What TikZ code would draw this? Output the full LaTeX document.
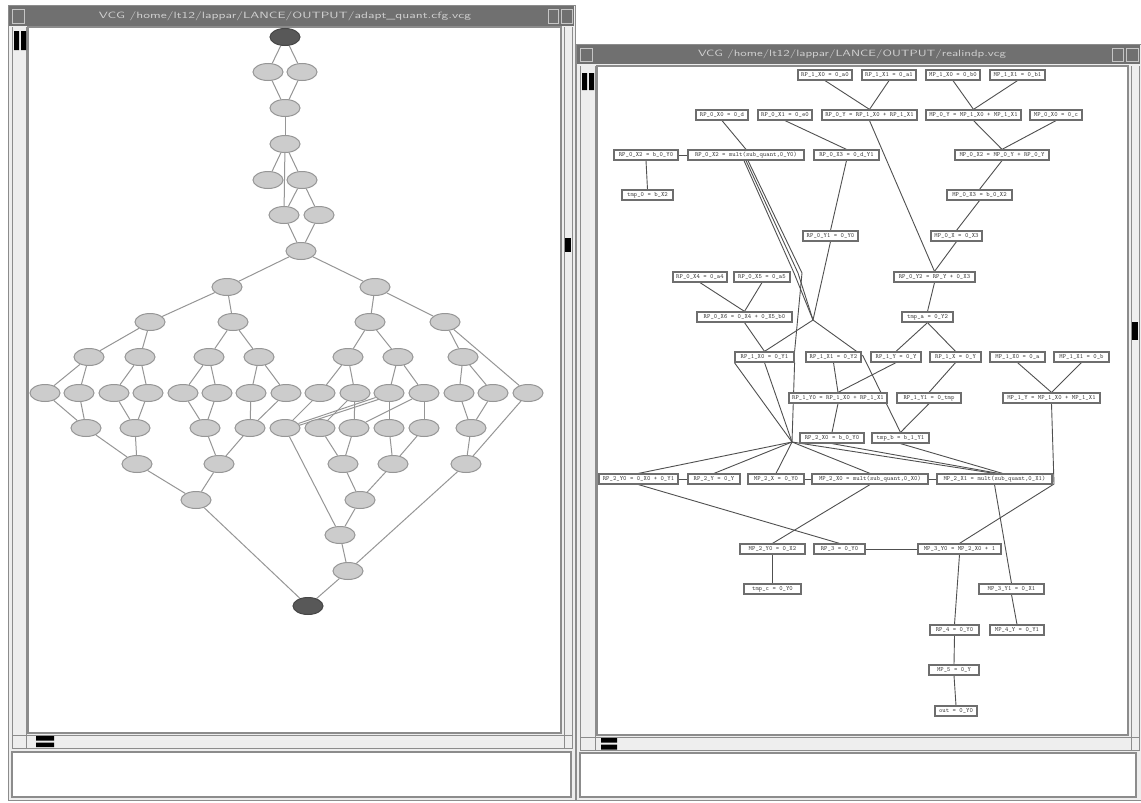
\documentclass[tikz,border=0pt]{standalone}
\usepackage{graphicx}
\usetikzlibrary{shapes.geometric}
\definecolor{tbar}{RGB}{112,112,112}
\definecolor{frm}{RGB}{140,140,140}
\definecolor{strip}{RGB}{238,238,238}
\definecolor{efill}{RGB}{204,204,204}
\definecolor{eline}{RGB}{150,150,150}
\definecolor{dfill}{RGB}{88,88,88}
\definecolor{ledgec}{RGB}{150,150,150}
\definecolor{redgec}{RGB}{80,80,80}
\definecolor{blinec}{RGB}{110,110,110}
\pgfdeclarelayer{bg}\pgfdeclarelayer{edges}\pgfsetlayers{bg,edges,main}
\newcommand\rbx[5]{\node[rb,minimum width={(#3-#2)*0.5pt}] (#1) at ({(#2+#3)/2},#4) {\detokenize{#5}};}
\newcommand\el[3]{\node[ell] (#1) at (#2,#3) {};}
\tikzset{
  ell/.style={ellipse,draw=eline,fill=efill,line width=0.5pt,minimum width=15pt,minimum height=8.5pt,inner sep=0pt},
  dell/.style={ell,fill=dfill,draw=dfill!80!black},
  rb/.style={draw=blinec,fill=white,line width=0.6pt,minimum height=5pt,inner sep=0pt,font=\fontsize{3.2}{3.5}\ttfamily,text=black!75},
  ledge/.style={draw=ledgec,line width=0.5pt},
  redge/.style={draw=redgec,line width=0.45pt},
  ttl/.style={inner sep=0pt,text=gray!35,font=\sffamily},
  thumb/.style={fill=black}
}
\begin{document}
\begin{tikzpicture}[x=0.5pt,y=-0.5pt]
\useasboundingbox (0,0) rectangle (1141,803);
\begin{pgfonlayer}{bg}
\fill[white] (0,0) rectangle (1141,803);
% ---------- left window ----------
\fill[strip] (8,5) rectangle (575,800);
\draw[frm] (8,5) rectangle (575,800);
\fill[tbar] (9,6) rectangle (574,26);
\draw[gray!45] (12,9) rectangle (24,23) (548,9) rectangle (558,23) (561,9) rectangle (572,23);
\fill[white] (28,27) rectangle (561,733);
\draw[frm,line width=0.8pt] (28,27) rectangle (561,733);
\draw[frm] (12,27) -- (12,749) (26,27) -- (26,749) (564,27) -- (564,749) (572,27) -- (572,749);
\draw[frm] (12,735) -- (572,735) (12,748) -- (572,748);
\fill[thumb] (14,31) rectangle (19,50) (21,31) rectangle (26,50);
\fill[thumb] (565,238) rectangle (571,252);
\fill[thumb] (36,736) rectangle (54,740.5) (36,742.5) rectangle (54,747);
\fill[white] (12,752) rectangle (571,797);
\draw[frm,line width=0.8pt] (12,752) rectangle (571,797);
% ---------- right window ----------
\fill[strip] (576,44) rectangle (1141,800);
\draw[frm] (576,44) rectangle (1141,800);
\fill[tbar] (577,45) rectangle (1140,64);
\draw[gray!45] (580,48) rectangle (592,61) (1112,48) rectangle (1123,61) (1126,48) rectangle (1138,61);
\fill[white] (597,66) rectangle (1128,735);
\draw[frm,line width=0.8pt] (597,66) rectangle (1128,735);
\draw[frm] (580,66) -- (580,751) (595,66) -- (595,751) (1131,66) -- (1131,751) (1139,66) -- (1139,751);
\draw[frm] (580,737) -- (1139,737) (580,750) -- (1139,750);
\fill[thumb] (582,73) rectangle (587,90) (589,73) rectangle (594,90);
\fill[thumb] (1132,322) rectangle (1138,340);
\fill[thumb] (601,738) rectangle (617,742.5) (601,744.5) rectangle (617,749.5);
\fill[white] (580,753) rectangle (1136,797);
\draw[frm,line width=0.8pt] (580,753) rectangle (1136,797);
\end{pgfonlayer}
% titles
\node[ttl] (title1) at (285,16) {\resizebox{186pt}{3.4pt}{\detokenize{VCG /home/lt12/lappar/LANCE/OUTPUT/adapt_quant.cfg.vcg}}};
\node[ttl] (title2) at (852,54) {\resizebox{154pt}{3.4pt}{\detokenize{VCG /home/lt12/lappar/LANCE/OUTPUT/realindp.vcg}}};
% ---------- left graph ----------
\node[dell] (L0) at (285,37) {};
\el{A1}{268}{72}\el{A2}{302}{72}
\el{A3}{285}{108}\el{A4}{285}{144}
\el{A5}{268}{180}\el{A6}{302}{180}
\el{A7}{284}{215}\el{A8}{319}{215}
\el{A9}{301}{251}
\el{B1}{227}{287}\el{B2}{375}{287}
\el{C1}{150}{322}\el{C2}{233}{322}\el{C3}{370}{322}\el{C4}{445}{322}
\el{D1}{89}{357}\el{D2}{140}{357}\el{D3}{209}{357}\el{D4}{259}{357}\el{D5}{348}{357}\el{D6}{398}{357}\el{D7}{463}{357}
\foreach \i/\x in {1/45,2/79,3/114,4/148,5/183,6/217,7/251,8/286,9/320,10/355,11/389,12/424,13/459,14/493,15/528}{\el{E\i}{\x}{393}}
\foreach \i/\x in {1/86,2/135,3/205,4/250,5/285,6/320,7/354,8/389,9/424,10/471}{\el{F\i}{\x}{428}}
\foreach \i/\x in {1/137,2/219,3/343,4/393,5/466}{\el{G\i}{\x}{464}}
\el{H1}{196}{500}\el{H2}{360}{500}
\el{I1}{340}{535}\el{J1}{348}{571}
\node[dell] (LE) at (308,606) {};
\begin{pgfonlayer}{edges}
\foreach \a/\b in {L0/A1,L0/A2,A1/A3,A2/A3,A3/A4,A4/A5,A4/A6,A4/A7,A6/A7,A6/A8,A7/A9,A8/A9,
  A9/B1,A9/B2,B1/C1,B1/C2,B2/C3,B2/C4,
  C1/D1,C1/D2,C2/D3,C2/D4,C3/D5,C3/D6,C4/D7,C4/E15,
  D1/E1,D1/E2,D2/E3,D2/E4,D3/E5,D3/E6,D4/E7,D4/E8,D5/E9,D5/E10,D6/E11,D6/E12,D7/E13,D7/E14,
  E1/F1,E2/F1,E3/F2,E4/F2,E5/F3,E6/F3,E7/F4,E8/F4,E9/F5,E11/F5,E10/F6,E10/F7,E12/F7,E11/F8,E12/F9,E13/F10,E14/F10,
  F1/G1,F2/G1,F3/G2,F4/G2,F6/G3,F7/G3,F8/G4,F9/G4,F10/G5,E15/G5,
  G1/H1,G2/H1,G3/H2,G4/H2,F5/I1,H2/I1,I1/J1,G5/J1,H1/LE,J1/LE}
  {\draw[ledge] (\a) -- (\b);}
\draw[ledge] ([yshift=-1.5pt]E11.center) -- ([yshift=-1pt]F5.center);
\end{pgfonlayer}
% ---------- right graph ----------
\rbx{a1}{798}{852}{75}{RP_1_X0 = 0_a0}
\rbx{a2}{862}{916}{75}{RP_1_X1 = 0_a1}
\rbx{a3}{926}{980}{75}{MP_1_X0 = 0_b0}
\rbx{a4}{990}{1045}{75}{MP_1_X1 = 0_b1}
\rbx{b1}{696}{748}{115}{RP_0_X0 = 0_d}
\rbx{b2}{758}{812}{115}{RP_0_X1 = 0_e0}
\rbx{b3}{822}{917}{115}{RP_0_Y = RP_1_X0 + RP_1_X1}
\rbx{b4}{926}{1021}{115}{MP_0_Y = MP_1_X0 + MP_1_X1}
\rbx{b5}{1030}{1082}{115}{MP_0_X0 = 0_c}
\rbx{c1}{614}{678}{155}{RP_0_X2 = b_0_Y0}
\rbx{c2}{688}{804}{155}{RP_0_X2 = mult(sub_quant,0_Y0)}
\rbx{c3}{814}{879}{155}{RP_0_X3 = 0_d_Y1}
\rbx{c4}{955}{1049}{155}{MP_0_X2 = MP_0_Y + RP_0_Y}
\rbx{d1}{622}{673}{195}{tmp_0 = b_X2}
\rbx{d2}{947}{1012}{195}{MP_0_X3 = b_0_X2}
\rbx{e1}{803}{858}{236}{RP_0_Y1 = 0_Y0}
\rbx{e2}{931}{982}{236}{MP_0_X = 0_X3}
\rbx{f1}{673}{727}{277}{RP_0_X4 = 0_a4}
\rbx{f2}{734}{790}{277}{RP_0_X5 = 0_a5}
\rbx{f3}{894}{975}{277}{RP_0_Y2 = RP_Y + 0_X3}
\rbx{g1}{697}{792}{317}{RP_0_X6 = 0_X4 + 0_X5_b0}
\rbx{g2}{902}{953}{317}{tmp_a = 0_Y2}
\rbx{h1}{735}{794}{357}{RP_1_X0 = 0_Y1}
\rbx{h2}{806}{861}{357}{RP_1_X1 = 0_Y2}
\rbx{h3}{871}{921}{357}{RP_1_Y = 0_Y}
\rbx{h4}{930}{981}{357}{RP_1_X = 0_Y}
\rbx{h5}{990}{1045}{357}{MP_1_X0 = 0_a}
\rbx{h6}{1054}{1109}{357}{MP_1_X1 = 0_b}
\rbx{i1}{789}{887}{398}{RP_1_Y0 = RP_1_X0 + RP_1_X1}
\rbx{i2}{897}{961}{398}{RP_1_Y1 = 0_tmp}
\rbx{i3}{1003}{1100}{398}{MP_1_Y = MP_1_X0 + MP_1_X1}
\rbx{j1}{800}{864}{438}{RP_2_X0 = b_0_Y0}
\rbx{j2}{872}{929}{438}{tmp_b = b_1_Y1}
\rbx{k1}{599}{678}{479}{RP_2_Y0 = 0_X0 + 0_Y1}
\rbx{k2}{688}{740}{479}{RP_2_Y = 0_Y}
\rbx{k3}{748}{804}{479}{MP_2_X = 0_Y0}
\rbx{k4}{812}{928}{479}{MP_2_X0 = mult(sub_quant,0_X0)}
\rbx{k5}{937}{1052}{479}{MP_2_X1 = mult(sub_quant,0_X1)}
\rbx{l1}{740}{805}{549}{MP_2_Y0 = 0_X2}
\rbx{l2}{814}{865}{549}{RP_3 = 0_Y0}
\rbx{l3}{918}{1001}{549}{MP_3_Y0 = MP_2_X0 + 1}
\rbx{m1}{744}{801}{589}{tmp_c = 0_Y0}
\rbx{m2}{979}{1044}{589}{MP_3_Y1 = 0_X1}
\rbx{n1}{930}{979}{630}{RP_4 = 0_Y0}
\rbx{n2}{990}{1044}{630}{MP_4_Y = 0_Y1}
\rbx{o1}{929}{979}{670}{MP_5 = 0_Y}
\rbx{p1}{935}{977}{711}{out = 0_Y0}
\coordinate (q1) at (794,273);
\coordinate (q2) at (798,273);
\coordinate (q3) at (802,273);
\coordinate (J1) at (813,320);
\coordinate (q4) at (863,356);
\coordinate (J2) at (792,442);
\coordinate (q5) at (1054,484);
\begin{pgfonlayer}{edges}
\foreach \a/\b in {a1/b3,a2/b3,a3/b4,a4/b4,b1/c2,b2/c3,b3/f3,b4/c4,b5/c4,c1/d1,c3/e1,c4/d2,d2/e2,e2/f3,
  f1/g1,f2/g1,f3/g2,g2/h3,g2/h4,g1/h1,h2/i1,i1/j1,h3/i1,h4/i2,i2/j2,h5/i3,h6/i3,
  k1/l2,k4/l1,l1/m1,k5/m2,m2/n2,l3/n1,n1/o1,o1/p1}
  {\draw[redge] (\a.south) -- (\b.north);}
\draw[redge] (c1.east) -- (c2.west);
\draw[redge] (k1.east) -- (k2.west);
\draw[redge] (k3.east) -- (k4.west);
\draw[redge] (k4.east) -- (k5.west);
\draw[redge] (l2.east) -- (l3.west);
\draw[redge] ([xshift=-1pt]c2.south) -- (q1) -- (J1) -- (h1.north);
\draw[redge] (c2.south) -- (q2) -- (J1) -- (q4) -- (j2.north);
\draw[redge] ([xshift=1pt]c2.south) -- (q3) -- (h1.north east);
\draw[redge] (e1.south) -- (J1);
\draw[redge] (h1.south west) -- (J2);
\draw[redge] (h1.south) -- (J2);
\draw[redge] (h1.south east) -- (J2);
\draw[redge] (i3.south) -- (q5) -- (l3.north);
\foreach \b in {k1,k2,k3,k4,k5}{\draw[redge] (J2) -- (\b.north);}
\draw[redge] (j1.south) -- ([xshift=2pt]k5.north);
\draw[redge] (j2.south) -- ([xshift=4pt]k5.north);
\end{pgfonlayer}
\end{tikzpicture}
\end{document}
